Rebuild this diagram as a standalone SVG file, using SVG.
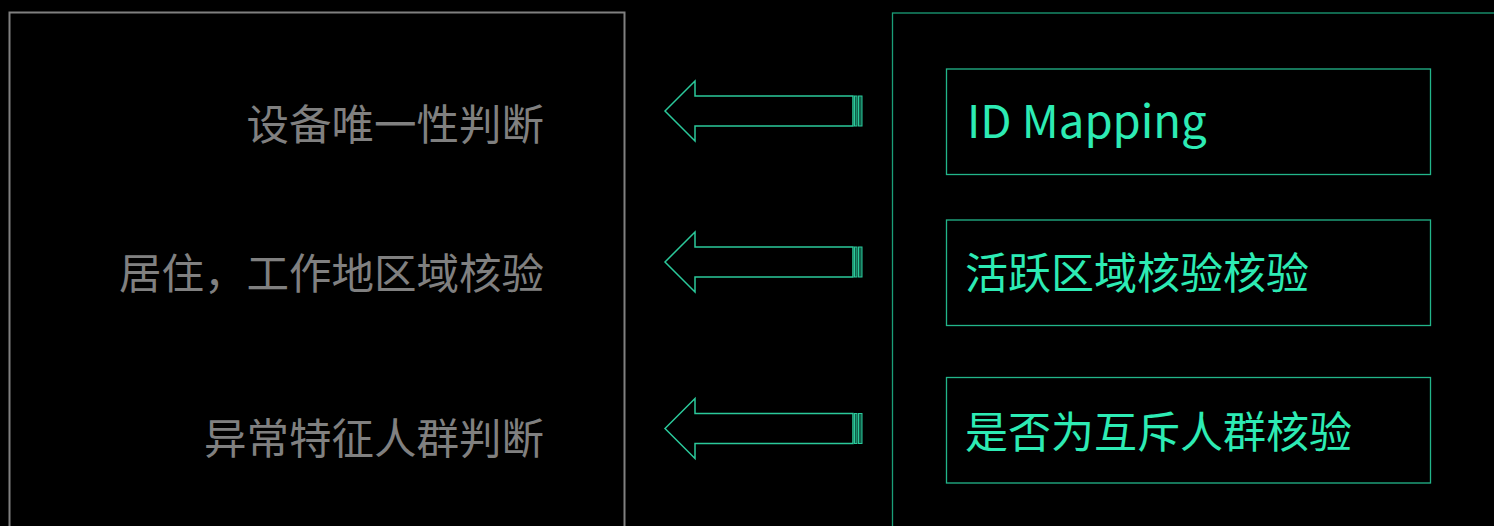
<svg xmlns="http://www.w3.org/2000/svg" width="1494" height="526" viewBox="0 0 1494 526">
<style>
.bg{fill:#000}
.lbox{fill:none;stroke:#808080;stroke-width:2}
.rbox{fill:none;stroke:#1A9E78;stroke-width:1.3}
.ibox{fill:none;stroke:#22B58A;stroke-width:1.3}
.ltxt{font-family:"Microsoft YaHei","Noto Sans CJK SC","Noto Sans",sans-serif;font-size:42.5px;fill:#808080;text-anchor:end}
.rtxt{font-family:"Microsoft YaHei","Noto Sans CJK SC","Noto Sans",sans-serif;font-size:43px;fill:#2DEBB4}
.rlat{font-family:"Microsoft YaHei","Noto Sans CJK SC","Noto Sans",sans-serif;font-size:45.5px;fill:#2DEBB4}
.arr{fill:#000;stroke:#2BC99B;stroke-width:1.5;stroke-linejoin:miter}
.strip{fill:#0F5E48;stroke:#2BC99B;stroke-width:1}
</style>
<defs>
<g id="arrow">
<polygon class="arr" points="665,0 695,-30 695,-15 853,-15 853,15 695,15 695,30"/>
<rect class="strip" x="854.5" y="-15" width="2.5" height="30"/>
<rect class="strip" x="858.5" y="-15" width="3.5" height="30"/>
</g>
</defs>
<rect class="bg" x="0" y="0" width="1494" height="526"/>
<g id="left-panel">
<rect class="lbox" x="9.5" y="12.5" width="615" height="540"/>
<text class="ltxt" x="544" y="140">设备唯一性判断</text>
<text class="ltxt" x="544" y="289">居住，工作地区域核验</text>
<text class="ltxt" x="544" y="454">异常特征人群判断</text>
</g>
<g id="right-panel">
<rect class="rbox" x="892.5" y="13" width="640" height="540"/>
</g>
<g id="node-id-mapping">
<rect class="ibox" x="946.5" y="69" width="484" height="105.5"/>
<text class="rlat" x="967" y="137.5">ID Mapping</text>
</g>
<g id="node-active-region">
<rect class="ibox" x="946.5" y="220" width="484" height="105.5"/>
<text class="rtxt" x="965" y="289">活跃区域核验核验</text>
</g>
<g id="node-mutex-group">
<rect class="ibox" x="946.5" y="377.5" width="484" height="105.5"/>
<text class="rtxt" x="965" y="448">是否为互斥人群核验</text>
</g>
<g id="connectors">
<use href="#arrow" transform="translate(0,111)"/>
<use href="#arrow" transform="translate(0,262)"/>
<use href="#arrow" transform="translate(0,428.5)"/>
</g>
</svg>
